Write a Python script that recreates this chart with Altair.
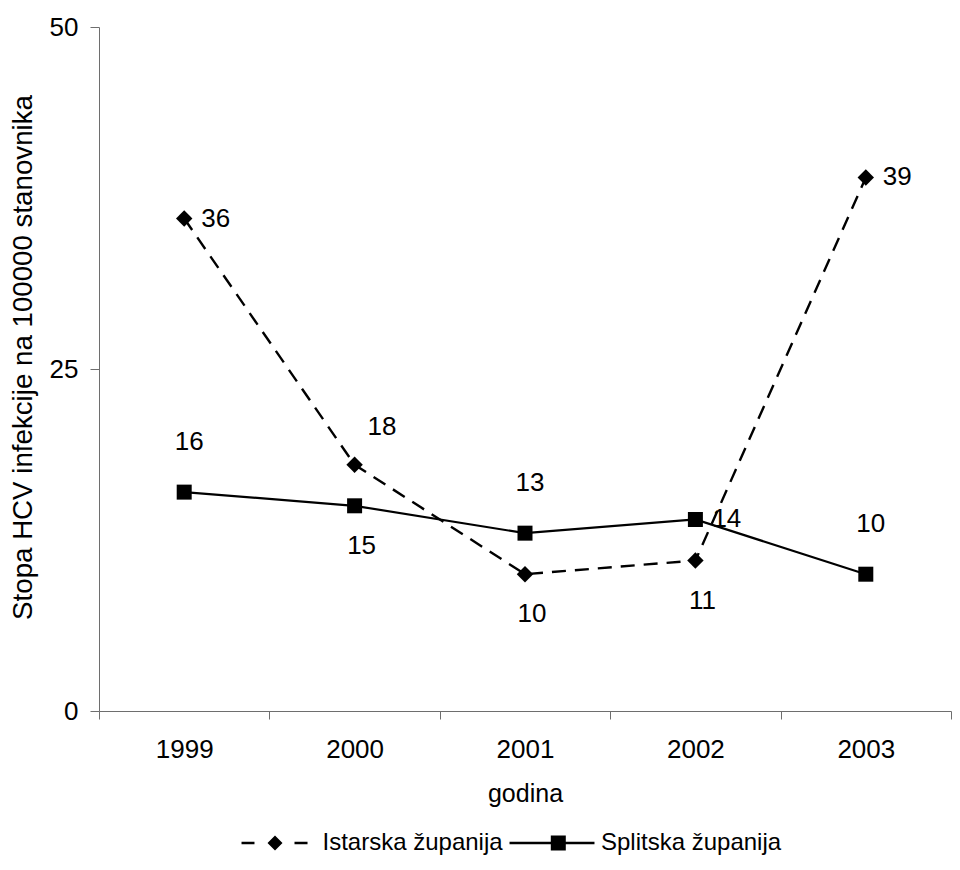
import altair as alt
import pandas as pd

years = ["1999", "2000", "2001", "2002", "2003"]
istarska = [36, 18, 10, 11, 39]
splitska = [16, 15, 13, 14, 10]
series_names = ["Istarska županija", "Splitska županija"]
istarska_label_pos = ["right", "above-right", "below", "below", "right"]
splitska_label_pos = ["above", "below", "above", "right", "above"]

rows = []
for yr, v, p in zip(years, istarska, istarska_label_pos):
    rows.append({"godina": yr, "vrijednost": v, "serija": series_names[0], "pozicija": p})
for yr, v, p in zip(years, splitska, splitska_label_pos):
    rows.append({"godina": yr, "vrijednost": v, "serija": series_names[1], "pozicija": p})
df = pd.DataFrame(rows)

FONT = "Liberation Sans"
AXIS_GRAY = "#6e6e6e"

x_enc = alt.X(
    "godina:N",
    sort=years,
    title="godina",
    scale=alt.Scale(type="band", paddingInner=0, paddingOuter=0),
    axis=alt.Axis(tickBand="extent", labelAngle=0, tickSize=8, labelPadding=17, titlePadding=19),
)
y_enc = alt.Y(
    "vrijednost:Q",
    title="Stopa HCV infekcije na 100000 stanovnika",
    scale=alt.Scale(domain=[0, 50], nice=False, zero=True),
    axis=alt.Axis(
        values=[0, 25, 50], tickSize=9, labelPadding=12, titlePadding=12,
        titleFontSize=27.7, titleY=330,
    ),
)

base = alt.Chart(df)
ist = base.transform_filter(alt.datum.serija == series_names[0])
spl = base.transform_filter(alt.datum.serija == series_names[1])

line_i = ist.mark_line(strokeWidth=2.4, color="black", strokeDash=[14, 9]).encode(x=x_enc, y=y_enc)
line_s = spl.mark_line(strokeWidth=2.2, color="black").encode(x=x_enc, y=y_enc)

pts_i = ist.mark_point(shape="diamond", filled=True, size=270, color="black", opacity=1).encode(
    x=x_enc, y=y_enc
)
pts_s = spl.mark_point(shape="square", filled=True, size=225, color="black", opacity=1).encode(
    x=x_enc, y=y_enc
)

placements = {
    "right": dict(align="left", dx=17, dy=0),
    "above-right": dict(align="left", dx=13, dy=-38),
    "above": dict(align="center", dx=5, dy=-50),
    "below": dict(align="center", dx=7, dy=40),
}
texts = []
for name, opts in placements.items():
    texts.append(
        base.transform_filter(alt.datum.pozicija == name)
        .mark_text(baseline="middle", fontSize=26, font=FONT, color="black", **opts)
        .encode(x=x_enc, y=y_enc, text="vrijednost:Q")
    )

# legend glyphs drawn as filled shapes: dashed line with diamond, solid line with square
path_i = (
    "M-5.58,-0.19H-3.42V0.19H-5.58Z"
    "M3.25,-0.19H5.42V0.19H3.25Z"
    "M-1.25,0L0,-1.25L1.25,0L0,1.25Z"
)
path_s = "M-7.33,-0.19H6.83V0.19H-7.33Z" "M-0.45,-1.25H2.05V1.25H-0.45Z"

legend_layer = base.mark_point(
    filled=True, fill="black", stroke="black", strokeWidth=2, color="black", opacity=0
).encode(
    x=x_enc,
    y=y_enc,
    shape=alt.Shape(
        "serija:N",
        scale=alt.Scale(domain=series_names, range=[path_i, path_s]),
        legend=alt.Legend(
            orient="none",
            legendX=164,
            legendY=804,
            direction="horizontal",
            title=None,
            symbolSize=144,
            symbolStrokeWidth=2.2,
            symbolFillColor="black",
            symbolStrokeColor="black",
            symbolOpacity=1,
            symbolOffset=0,
            labelOffset=35.5,
            labelFontSize=24,
            labelFont=FONT,
            labelColor="black",
            labelLimit=400,
            columnPadding=1.5,
            padding=0,
        ),
    ),
)

chart = (
    alt.layer(line_i, line_s, pts_i, pts_s, *texts, legend_layer)
    .properties(
        width=852,
        height=684,
        padding={"left": 91, "top": 19, "right": 1, "bottom": 150},
        autosize=alt.AutoSizeParams(type="none"),
    )
    .configure_view(stroke=None)
    .configure_axis(
        labelFont=FONT,
        titleFont=FONT,
        labelFontSize=26,
        titleFontSize=25,
        labelColor="black",
        titleColor="black",
        titleFontWeight="normal",
        domainColor=AXIS_GRAY,
        tickColor=AXIS_GRAY,
        grid=False,
    )
)

chart.save("out.html", embed_options={"renderer": "svg", "actions": False})
